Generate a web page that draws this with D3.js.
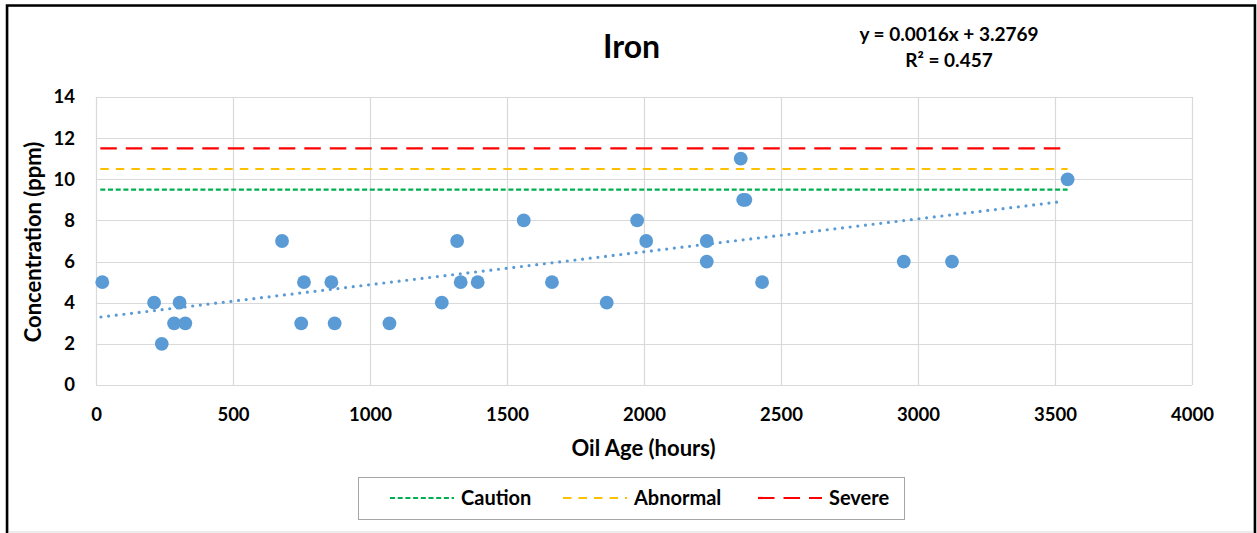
<!DOCTYPE html>
<html>
<head>
<meta charset="utf-8">
<script src="https://cdn.jsdelivr.net/npm/d3@7"></script>
<style>
  html, body { margin: 0; padding: 0; background: #fff; }
  svg { display: block; font-family: Lato, "Open Sans", sans-serif; font-weight: bold; }
</style>
</head>
<body>
<svg id="chart" width="1257" height="533"></svg>
<script>
// ---- data ----
const oilAge = [23, 212, 240, 285, 305, 326, 679, 749, 759, 859, 871, 1071, 1262, 1318, 1331, 1393, 1561, 1664, 1864, 1975, 2008, 2229, 2229, 2353, 2362, 2370, 2431, 2948, 3124, 3546];
const iron   = [5, 4, 2, 3, 4, 3, 7, 3, 5, 5, 3, 3, 4, 7, 5, 5, 8, 5, 4, 8, 7, 7, 6, 11, 9, 9, 5, 6, 6, 10];
const xTicks = [0, 500, 1000, 1500, 2000, 2500, 3000, 3500, 4000];
const yTicks = [0, 2, 4, 6, 8, 10, 12, 14];
const limitNames  = ["Caution", "Abnormal", "Severe"];
const limitValues = [9.5, 10.5, 11.5];
const trendSlope = 0.0016, trendIntercept = 3.2769, trendR2 = 0.457;
const titleText = "Iron";
const xTitle = "Oil Age (hours)";
const yTitle = "Concentration (ppm)";

// ---- layout ----
const svg = d3.select("#chart");
const plot = { left: 96, right: 1192, top: 97, bottom: 385 };
const x = d3.scaleLinear().domain([0, 4000]).range([plot.left, plot.right]);
const y = d3.scaleLinear().domain([0, 14]).range([plot.bottom, plot.top]);
const limitColors = ["#00B050", "#FFC000", "#FF0000"];
const limitDash = ["5,2.7", "8.5,7", "16.5,9"];
const blue = "#5B9BD5";

// frame
svg.append("rect").attr("x", 8.5).attr("y", 6.5).attr("width", 1245).attr("height", 525.5)
  .attr("fill", "none").attr("stroke", "#d9d9d9").attr("stroke-width", 1);
svg.append("path").attr("d", "M7,540 V5.5 H1255 V540")
  .attr("fill", "none").attr("stroke", "#000").attr("stroke-width", 2.5);

// grid
const g = svg.append("g");
g.selectAll("line.hg").data(yTicks).join("line")
  .attr("x1", plot.left).attr("x2", plot.right)
  .attr("y1", d => Math.round(y(d)) + 0.5).attr("y2", d => Math.round(y(d)) + 0.5)
  .attr("stroke", "#d9d9d9").attr("stroke-width", 1.2);
g.selectAll("line.vg").data(xTicks).join("line")
  .attr("y1", plot.top).attr("y2", plot.bottom)
  .attr("x1", d => Math.round(x(d)) + 0.5).attr("x2", d => Math.round(x(d)) + 0.5)
  .attr("stroke", "#d9d9d9").attr("stroke-width", 1.2);

// axes (labels only)
const xAxis = d3.axisBottom(x).tickValues(xTicks).tickSize(0).tickPadding(23).tickFormat(d3.format("d"));
const gx = svg.append("g").attr("transform", `translate(0,${plot.bottom})`).call(xAxis);
gx.select(".domain").remove();
gx.selectAll("text").attr("font-size", 18.5).attr("font-weight", "bold").attr("fill", "#000").attr("font-family", "Lato");

const yAxis = d3.axisLeft(y).tickValues(yTicks).tickSize(0).tickPadding(21).tickFormat(d3.format("d"));
const gy = svg.append("g").attr("transform", `translate(${plot.left},0)`).call(yAxis);
gy.select(".domain").remove();
gy.selectAll("text").attr("font-size", 18.5).attr("font-weight", "bold").attr("fill", "#000").attr("font-family", "Lato");

// limit lines
const xMin = d3.min(oilAge), xMax = d3.max(oilAge);
limitValues.forEach((v, i) => {
  svg.append("line")
    .attr("x1", x(xMin) - 2).attr("x2", x(xMax))
    .attr("y1", y(v)).attr("y2", y(v))
    .attr("stroke", limitColors[i]).attr("stroke-width", 2.2)
    .attr("stroke-dasharray", limitDash[i]);
});

// points
svg.append("g").selectAll("circle").data(oilAge.map((a, i) => [a, iron[i]])).join("circle")
  .attr("cx", d => x(d[0])).attr("cy", d => y(d[1])).attr("r", 6.9)
  .attr("fill", blue);

// trendline
const t0 = 18, t1 = 3530;
svg.append("line")
  .attr("x1", x(t0)).attr("y1", y(trendSlope * t0 + trendIntercept))
  .attr("x2", x(t1)).attr("y2", y(trendSlope * t1 + trendIntercept))
  .attr("stroke", blue).attr("stroke-width", 3.2)
  .attr("stroke-linecap", "round").attr("stroke-dasharray", "0,7.7");

// titles
svg.append("text").attr("x", 631.5).attr("y", 58).attr("text-anchor", "middle")
  .attr("font-size", 32).text(titleText);
svg.append("text").attr("x", 949).attr("y", 41).attr("text-anchor", "middle")
  .attr("font-size", 19).text(`y = ${trendSlope}x + ${trendIntercept}`);
svg.append("text").attr("x", 949).attr("y", 67).attr("text-anchor", "middle")
  .attr("font-size", 19).text(`R² = ${trendR2}`);
svg.append("text").attr("x", 643.5).attr("y", 456).attr("text-anchor", "middle")
  .attr("font-size", 22).text(xTitle);
svg.append("text").attr("transform", "translate(40.5,242) rotate(-90)").attr("text-anchor", "middle")
  .attr("font-size", 22).text(yTitle);

// legend
svg.append("rect").attr("x", 358.5).attr("y", 477.5).attr("width", 546).attr("height", 42)
  .attr("fill", "#fff").attr("stroke", "#a6a6a6").attr("stroke-width", 1);
const legX = [390, 563, 758];
const legLen = 64;
limitNames.forEach((n, i) => {
  svg.append("line").attr("x1", legX[i]).attr("x2", legX[i] + legLen)
    .attr("y1", 498).attr("y2", 498)
    .attr("stroke", limitColors[i]).attr("stroke-width", 2.2)
    .attr("stroke-dasharray", limitDash[i]);
  svg.append("text").attr("x", legX[i] + legLen + 7).attr("y", 505)
    .attr("font-size", 20).text(n);
});
</script>
</body>
</html>
